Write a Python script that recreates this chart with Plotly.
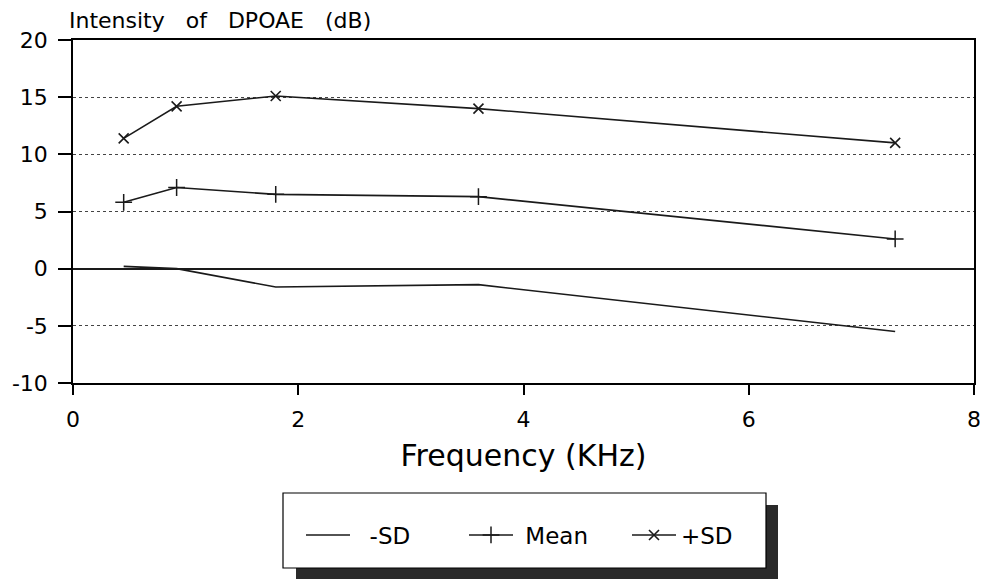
import plotly.graph_objects as go

freq_khz = [0.45, 0.92, 1.8, 3.6, 7.3]
minus_sd = [0.2, 0.0, -1.6, -1.4, -5.5]
mean_db = [5.8, 7.1, 6.5, 6.3, 2.6]
plus_sd = [11.4, 14.2, 15.1, 14.0, 11.0]

x_ticks = [0, 2, 4, 6, 8]
y_ticks = [-10, -5, 0, 5, 10, 15, 20]
y_tick_labels = ["-10", "-5", "0", "5", "10", "15", "20"]

# page body has an 8px margin, so the figure is drawn 8px lower/right
OFF = 8
PAGE_W, PAGE_H = 988, 579
W, H = PAGE_W - OFF, PAGE_H - OFF
# plot area in page pixel coordinates
L, R, T, B = 73, 974, 40, 383


def px(x):
    return (x - L) / (R - L)


def py(y):
    return (B - y) / (B - T)


FONT = "DejaVu Sans, Arial, sans-serif"
LINE = "#1a1a1a"
NB = "\u00a0"

fig = go.Figure()
fig.add_trace(go.Scatter(x=freq_khz, y=minus_sd, name=NB + NB + "-SD", mode="lines",
                         line=dict(color=LINE, width=1.6)))
fig.add_trace(go.Scatter(x=freq_khz, y=mean_db, name=NB + "Mean", mode="lines+markers",
                         line=dict(color=LINE, width=1.6),
                         marker=dict(symbol="cross-thin", size=12,
                                     line=dict(color=LINE, width=1.5))))
fig.add_trace(go.Scatter(x=freq_khz, y=plus_sd, name="+SD", mode="lines+markers",
                         line=dict(color=LINE, width=1.6),
                         marker=dict(symbol="x-thin", size=10,
                                     line=dict(color=LINE, width=1.6))))

shapes = [
    # legend shadow
    dict(type="rect", xref="paper", yref="paper", layer="above",
         x0=px(296), x1=px(778), y0=py(585), y1=py(505),
         fillcolor="#2a2a2a", line=dict(width=0)),
    # legend box
    dict(type="rect", xref="paper", yref="paper", layer="above",
         x0=px(283), x1=px(766), y0=py(568), y1=py(493),
         fillcolor="white", line=dict(color="black", width=1.2)),
]

fig.update_layout(
    width=W, height=H,
    margin=dict(l=L - OFF, r=W - (R - OFF), t=T - OFF, b=H - (B - OFF), autoexpand=False),
    paper_bgcolor="white", plot_bgcolor="white",
    font=dict(family=FONT, size=20, color="black"),
    shapes=shapes,
    showlegend=True,
    legend=dict(orientation="h", x=px(301), y=py(535), xanchor="left", yanchor="middle",
                bgcolor="rgba(0,0,0,0)", borderwidth=0,
                font=dict(family=FONT, size=23, color="black"),
                entrywidth=104, entrywidthmode="pixels", itemwidth=44),
    annotations=[
        dict(text="Intensity" + NB + NB + " of" + NB + NB + " DPOAE" + NB + NB + " (dB)",
             xref="paper", yref="paper",
             x=px(67), y=py(20), xanchor="left", yanchor="middle", showarrow=False,
             font=dict(family=FONT, size=22, color="black")),
    ],
    xaxis=dict(range=[0, 8], tickvals=x_ticks, ticks="outside", ticklen=10,
               tickcolor="black", tickwidth=1.5, automargin=False,
               showline=True, linecolor="black", linewidth=1.5, mirror=True,
               showgrid=False, zeroline=False, ticklabelstandoff=6,
               tickfont=dict(family=FONT, size=22),
               title=dict(text="Frequency (KHz)", standoff=14,
                          font=dict(family=FONT, size=30))),
    yaxis=dict(range=[-10, 20], tickvals=y_ticks, ticktext=y_tick_labels,
               ticks="outside", ticklen=13, automargin=False,
               tickcolor="black", tickwidth=1.5,
               showline=True, linecolor="black", linewidth=1.5, mirror=True,
               showgrid=True, gridcolor="#444444", griddash="dot", gridwidth=1.2,
               zeroline=True, zerolinecolor=LINE, zerolinewidth=1.6,
               ticklabelstandoff=6,
               tickfont=dict(family=FONT, size=22)),
)

fig.write_html("out.html")
